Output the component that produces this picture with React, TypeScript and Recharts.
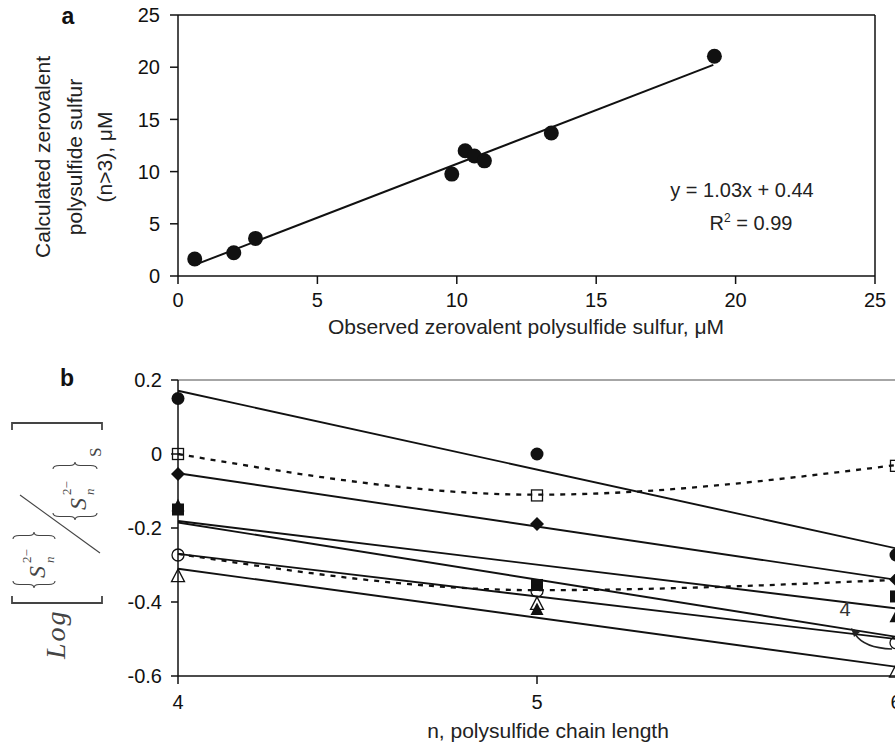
import React from 'react';
import { ScatterChart, Scatter, ComposedChart, Line, XAxis, YAxis, ReferenceLine } from 'recharts';

// ---------- Panel a data ----------
const observedX = [0.6, 2.0, 2.78, 9.82, 10.3, 10.63, 10.99, 13.39, 19.24];
const calculatedY = [1.63, 2.23, 3.6, 9.76, 12.0, 11.5, 11.03, 13.7, 21.05];
const fitAX = [0.6, 19.2];
const fitAY = [1.06, 20.22];
const ticksA = [0, 5, 10, 15, 20, 25];

// ---------- Panel b data ----------
const chainN = [4, 5, 6];
const filledCircle = [0.15, 0.0, -0.273];
const openSquare = [0.0, -0.112, -0.032];
const filledDiamond = [-0.054, -0.189, -0.339];
const filledSquare = [-0.15, -0.354, -0.385];
const filledTriangle = [-0.14, -0.42, -0.44];
const openCircle = [-0.273, -0.37, -0.51];
const openTriangle = [-0.33, -0.405, -0.588];
// regression lines (values at n=4 and n=6 only)
const fitCircle = [0.171, null, -0.255];
const fitDiamond = [-0.052, null, -0.34];
const fitSquare = [-0.181, null, -0.417];
const fitTriFilled = [-0.185, null, -0.494];
const fitCircOpen = [-0.27, null, -0.5];
const fitTriOpen = [-0.31, null, -0.575];
// dashed (smoothed) connecting lines
const dashUpper = [0.0, -0.11, -0.03];
const dashLower = [-0.27, -0.368, -0.34];
const ticksBY = [-0.6, -0.4, -0.2, 0, 0.2];
const ticksBX = [4, 5, 6];

const obsData = observedX.map((x, i) => ({ x, y: calculatedY[i] }));
const fitAData = fitAX.map((x, i) => ({ x, y: fitAY[i] }));
const bData = chainN.map((n, i) => ({
  n,
  fc: filledCircle[i],
  os: openSquare[i],
  fd: filledDiamond[i],
  fs: filledSquare[i],
  ft: filledTriangle[i],
  oc: openCircle[i],
  ot: openTriangle[i],
  f1: fitCircle[i],
  f2: fitDiamond[i],
  f3: fitSquare[i],
  f4: fitTriFilled[i],
  f5: fitCircOpen[i],
  f6: fitTriOpen[i],
  d1: dashUpper[i],
  d2: dashLower[i],
}));

const INK = '#111';
const FONT = '"Liberation Sans", Arial, Helvetica, sans-serif';

function Marker({ cx, cy, kind }: { cx: number; cy: number; kind: string }) {
  if (cx == null || cy == null) return <g />;
  const sw = 1.3;
  switch (kind) {
    case 'fc':
      return <circle cx={cx} cy={cy} r={6.5} fill={INK} />;
    case 'oc':
      return <circle cx={cx} cy={cy} r={6} fill="none" stroke={INK} strokeWidth={sw} />;
    case 'os':
      return <rect x={cx - 5.5} y={cy - 5.5} width={11} height={11} fill="none" stroke={INK} strokeWidth={sw} />;
    case 'fs':
      return <rect x={cx - 6} y={cy - 6} width={12} height={12} fill={INK} />;
    case 'fd':
      return <polygon points={`${cx},${cy - 7} ${cx + 7},${cy} ${cx},${cy + 7} ${cx - 7},${cy}`} fill={INK} />;
    case 'ft':
      return <polygon points={`${cx},${cy - 7} ${cx + 6.5},${cy + 5.5} ${cx - 6.5},${cy + 5.5}`} fill={INK} />;
    case 'ot':
      return (
        <polygon
          points={`${cx},${cy - 7} ${cx + 6.5},${cy + 5.5} ${cx - 6.5},${cy + 5.5}`}
          fill="none"
          stroke={INK}
          strokeWidth={sw}
        />
      );
    default:
      return <g />;
  }
}

function braceV(u: number, v1: number, v2: number, d: number, dir: number) {
  const h = v2 - v1;
  const m = (v1 + v2) / 2;
  const a = u + (dir * d) / 2;
  const t = u + dir * d;
  return `M ${u} ${v1} Q ${a} ${v1} ${a} ${v1 + h * 0.15} L ${a} ${m - h * 0.12} Q ${a} ${m} ${t} ${m} Q ${a} ${m} ${a} ${m + h * 0.12} L ${a} ${v2 - h * 0.15} Q ${a} ${v2} ${u} ${v2}`;
}

const SERIF = '"Liberation Serif", "DejaVu Serif", Times, serif';

function Formula() {
  const c = '#444';
  return (
    <g transform="translate(57,541) rotate(-90)" fill={c} fontFamily={SERIF}>
      <text x={-118} y={8} fontSize={28} fontStyle="italic" letterSpacing={2}>Log</text>
      <path d="M -55 -45 H -62 V 45 H -55" fill="none" stroke={c} strokeWidth={1.8} />
      <path d="M 111 -45 H 118 V 45 H 111" fill="none" stroke={c} strokeWidth={1.8} />
      {/* numerator */}
      <path d={braceV(-40, -44, -2, 7, -1)} fill="none" stroke={c} strokeWidth={1.1} />
      <text x={-37} y={-12} fontSize={24} fontStyle="italic">S</text>
      <text x={-22} y={-26} fontSize={13}>2−</text>
      <text x={-22} y={-3} fontSize={13} fontStyle="italic">n</text>
      <path d={braceV(2, -44, -2, 7, 1)} fill="none" stroke={c} strokeWidth={1.1} />
      {/* slash */}
      <line x1={46} y1={-37} x2={-12} y2={43} stroke={c} strokeWidth={1.1} />
      {/* denominator */}
      <path d={braceV(28, -4, 40, 7, -1)} fill="none" stroke={c} strokeWidth={1.1} />
      <text x={31} y={29} fontSize={24} fontStyle="italic">S</text>
      <text x={46} y={14} fontSize={13}>2−</text>
      <text x={46} y={37} fontSize={13} fontStyle="italic">n</text>
      <path d={braceV(72, -4, 40, 7, 1)} fill="none" stroke={c} strokeWidth={1.1} />
      <text x={84} y={44} fontSize={17}>S</text>
    </g>
  );
}

function Overlay() {
  return (
    <svg
      width={895}
      height={745}
      style={{ position: 'absolute', left: 0, top: 0, pointerEvents: 'none' }}
      fontFamily={FONT}
    >
      <text x={68} y={24} fontSize={23} fontWeight="bold" textAnchor="middle" fill={INK}>a</text>
      <text x={67} y={386} fontSize={23} fontWeight="bold" textAnchor="middle" fill={INK}>b</text>
      <g fontSize={21} fill="#222" textAnchor="middle">
        <text transform="rotate(-90)" x={-157} y={50}>Calculated zerovalent</text>
        <text transform="rotate(-90)" x={-157} y={82}>polysulfide sulfur</text>
        <text transform="rotate(-90)" x={-157} y={112}>(n&gt;3), μM</text>
      </g>
      <text x={526} y={334} fontSize={21} fill="#222" textAnchor="middle">
        Observed zerovalent polysulfide sulfur, μM
      </text>
      <text x={548} y={738} fontSize={21} fill="#222" textAnchor="middle">
        n, polysulfide chain length
      </text>
      <text x={742} y={197} fontSize={20} fill="#222" textAnchor="middle">y = 1.03x + 0.44</text>
      <text x={751} y={230} fontSize={20} fill="#222" textAnchor="middle">
        R<tspan dy={-8} fontSize={12}>2</tspan><tspan dy={8}> = 0.99</tspan>
      </text>
      <text x={845} y={616} fontSize={20} fill="#333" textAnchor="middle">4</text>
      <path d="M 892 649 Q 864 648 855 634" fill="none" stroke="#222" strokeWidth={1.5} />
      <polygon points="851,628 860,632 854,637" fill="#222" />
      <Formula />
    </svg>
  );
}

const axisStroke = { stroke: INK, strokeWidth: 1.5 };

export default function App() {
  return (
    <div
      style={{
        position: 'absolute',
        left: 0,
        top: 0,
        width: 895,
        height: 745,
        overflow: 'hidden',
        background: '#fff',
        fontFamily: FONT,
      }}
    >
      <div style={{ position: 'absolute', left: 0, top: 0 }}>
        <ScatterChart width={895} height={326} margin={{ top: 15, right: 20, left: 118, bottom: 0 }}>
          <XAxis
            type="number"
            dataKey="x"
            domain={[0, 25]}
            ticks={ticksA}
            height={50}
            tickSize={8}
            tickMargin={9}
            axisLine={axisStroke}
            tickLine={axisStroke}
            tick={{ fill: INK, fontSize: 20 }}
          />
          <YAxis
            type="number"
            dataKey="y"
            domain={[0, 25]}
            ticks={ticksA}
            width={60}
            tickSize={8}
            tickMargin={10}
            axisLine={axisStroke}
            tickLine={axisStroke}
            tick={{ fill: INK, fontSize: 20 }}
          />
          <ReferenceLine y={25} stroke={INK} strokeWidth={1.5} />
          <ReferenceLine x={25} stroke={INK} strokeWidth={1.5} />
          <Scatter
            data={fitAData}
            line={{ stroke: INK, strokeWidth: 2 }}
            shape={() => <g />}
            isAnimationActive={false}
          />
          <Scatter
            data={obsData}
            shape={(p: any) => <circle cx={p.cx} cy={p.cy} r={7.5} fill={INK} />}
            isAnimationActive={false}
          />
        </ScatterChart>
      </div>
      <div style={{ position: 'absolute', left: 0, top: 345 }}>
        <ComposedChart width={904} height={400} data={bData} margin={{ top: 35, right: 8, left: 118, bottom: 0 }}>
          <XAxis
            type="number"
            dataKey="n"
            domain={[4, 6]}
            ticks={ticksBX}
            height={69}
            tickSize={8}
            tickMargin={11}
            axisLine={axisStroke}
            tickLine={axisStroke}
            tick={{ fill: INK, fontSize: 20 }}
          />
          <YAxis
            type="number"
            domain={[-0.6, 0.2]}
            ticks={ticksBY}
            width={60}
            tickSize={7}
            tickMargin={9}
            axisLine={axisStroke}
            tickLine={axisStroke}
            tick={{ fill: INK, fontSize: 20 }}
          />
          <ReferenceLine y={0.2} stroke="#888" strokeWidth={1.5} />
          {['f1', 'f2', 'f3', 'f4', 'f5', 'f6'].map((k) => (
            <Line
              key={k}
              dataKey={k}
              type="linear"
              stroke={INK}
              strokeWidth={1.9}
              dot={false}
              activeDot={false}
              connectNulls
              isAnimationActive={false}
            />
          ))}
          {['d1', 'd2'].map((k) => (
            <Line
              key={k}
              dataKey={k}
              type="monotone"
              stroke={INK}
              strokeWidth={2.3}
              strokeDasharray="5 6"
              dot={false}
              activeDot={false}
              isAnimationActive={false}
            />
          ))}
          {['fc', 'os', 'fd', 'fs', 'ft', 'oc', 'ot'].map((k) => (
            <Line
              key={k}
              dataKey={k}
              stroke="none"
              strokeWidth={0}
              activeDot={false}
              isAnimationActive={false}
              dot={(p: any) => <Marker key={`${k}-${p.index}`} cx={p.cx} cy={p.cy} kind={k} />}
            />
          ))}
        </ComposedChart>
      </div>
      <Overlay />
    </div>
  );
}
